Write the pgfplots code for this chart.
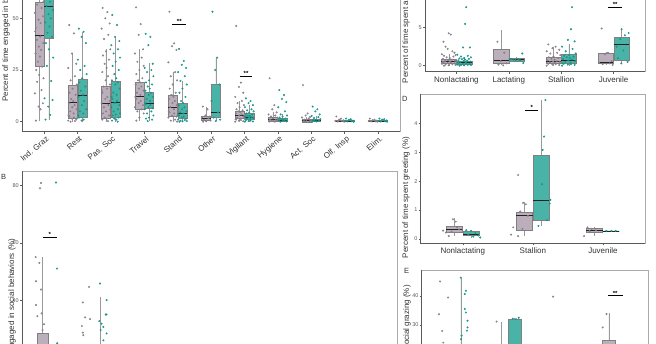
\documentclass[border=0pt]{standalone}
\usepackage{pgfplots}
\pgfplotsset{compat=1.18}
\usepgfplotslibrary{statistics}
\usepackage{fontspec}
\setmainfont{Liberation Sans}
\definecolor{pbox}{HTML}{A99BAA}
\definecolor{tbox}{HTML}{2AA698}
\definecolor{ppt}{HTML}{8A7E8C}
\definecolor{tpt}{HTML}{17978A}
\definecolor{frm}{HTML}{ABABAB}
\definecolor{axl}{HTML}{5A5A5A}
\definecolor{txt}{HTML}{333333}
\definecolor{med}{HTML}{222222}
\newcommand{\BX}[7]{\addplot[#1, boxplot prepared={draw position=#2, lower whisker=#3, lower quartile=#4, median=#5, upper quartile=#6, upper whisker=#7}] coordinates {};}
\newcommand{\SIG}[5]{\draw[black, line width=0.8pt] (axis cs:#1,#3) -- (axis cs:#2,#3); \node[font=\fontsize{6}{6}\selectfont\bfseries, inner sep=0pt, anchor=south] at (axis cs:#4,#3) {#5};}
\pgfplotsset{
 panel/.style={scale only axis, clip=false, axis line style={draw=frm, line width=0.6pt},
   tick pos=left, tick align=outside, major tick length=2pt,
   tick style={draw=axl, line width=0.4pt},
   /pgf/number format/assume math mode=true,
   yticklabel style={font=\fontsize{5.5}{6}\selectfont, text=axl, inner sep=1pt},
   xticklabel style={font=\fontsize{8}{9}\selectfont, text=txt, inner sep=1pt, yshift=-1.5pt},
   after end axis/.code={\draw[axl, line width=0.6pt] (rel axis cs:0,1) -- (rel axis cs:0,0) -- (rel axis cs:1,0);},
 },
 pb/.style={boxplot/draw direction=y, draw=gray, fill=pbox, fill opacity=0.8, line width=0.35pt, boxplot/whisker extend=0, boxplot/every median/.style={draw=med, line width=0.7pt}, boxplot/every whisker/.style={draw=gray!80}},
 tb/.style={boxplot/draw direction=y, draw=gray, fill=tbox, fill opacity=0.85, line width=0.35pt, boxplot/whisker extend=0, boxplot/every median/.style={draw=med, line width=0.7pt}, boxplot/every whisker/.style={draw=gray!80}},
 pp/.style={only marks, color=ppt, mark=*, mark size=0.8pt, mark options={draw=none, fill=ppt, fill opacity=0.8}},
 tp/.style={only marks, color=tpt, mark=*, mark size=0.8pt, mark options={draw=none, fill=tpt, fill opacity=0.85}},
}
\begin{document}
\begin{tikzpicture}
\useasboundingbox (0pt,0pt) rectangle (656pt,-344pt);
\clip (0pt,0pt) rectangle (656pt,-344pt);

% ---------------- Panel A ----------------
\begin{axis}[panel, at={(22pt,-131.7pt)}, anchor=south west, width=378pt, height=220.7pt,
  xmin=0.34, xmax=11.66, ymin=-4.84, ymax=101.9,
  xtick={1,...,11}, xticklabels={Ind. Graz, Rest, Pas. Soc, Travel, Stand, Other, Vigilant, Hygiene, Act. Soc, Olf. Insp, Elim.},
  xticklabel style={rotate=40, anchor=north east, xshift=2pt},
  ytick={0,25,50,75,100}, boxplot/box extend=0.27]
\BX{pb}{0.855}{0.5}{27}{41.9}{57.7}{90}
\BX{tb}{1.145}{1}{40.3}{55.6}{70}{95}
\BX{pb}{1.855}{0}{1.6}{9.2}{17.7}{33}
\BX{tb}{2.145}{0}{2.4}{12.6}{20.6}{43.5}
\BX{pb}{2.855}{0}{1.6}{8.9}{17.3}{35}
\BX{tb}{3.145}{0}{2.1}{9.5}{19.7}{41}
\BX{pb}{3.855}{0.5}{6.1}{12.1}{19.3}{35}
\BX{tb}{4.145}{0.3}{6.5}{8.9}{14.5}{28.2}
\BX{pb}{4.855}{0}{2.8}{7}{12.9}{24.2}
\BX{tb}{5.145}{0}{1.6}{4.1}{8.9}{19.7}
\BX{pb}{5.855}{0}{0.5}{1.6}{2.8}{7.3}
\BX{tb}{6.145}{0.3}{2.1}{4.5}{18.2}{31}
\BX{pb}{6.855}{0}{1.6}{3.2}{5.3}{10}
\BX{tb}{7.145}{0}{1.2}{2.1}{4.1}{8}
\BX{pb}{7.855}{0}{0.3}{1}{2}{4.5}
\BX{tb}{8.145}{0}{0.2}{0.7}{1.6}{3.5}
\BX{pb}{8.855}{0}{0}{0.5}{1}{2.3}
\BX{tb}{9.145}{0}{0.1}{0.5}{1.2}{2.8}
\BX{pb}{9.855}{0}{0.1}{0.3}{0.7}{1.5}
\BX{tb}{10.145}{0}{0.1}{0.3}{0.6}{1.2}
\BX{pb}{10.855}{0}{0.1}{0.2}{0.5}{1}
\BX{tb}{11.145}{0}{0.1}{0.3}{0.7}{1.5}
\addplot[pp] coordinates {
(0.755,0.5)(0.895,6)(0.835,7.3)(0.965,8.9)(0.725,13.7)(0.925,15.3)(0.795,19.3)(0.985,21)(0.855,22.6)(0.765,25)(0.945,26.6)(0.815,29)(0.875,31.5)(0.745,33)(0.915,34.7)(0.845,36.3)(0.975,38)(0.785,39.6)(0.885,41.2)(0.735,43.6)(0.755,45.3)(0.895,47.7)(0.835,49.3)(0.965,51)(0.725,52.6)(0.925,55)(0.795,56.6)(0.985,58.2)
(1.755,46.8)(1.895,42.7)(1.835,33)(1.965,28)(1.725,26)(1.925,22)(1.795,20)(1.985,18)(1.855,16)(1.765,14)(1.945,13)(1.815,11)(1.875,10)(1.745,9)(1.915,8)(1.845,7)(1.975,6)(1.785,5)(1.885,4)(1.735,3)(1.755,2.5)(1.895,2)(1.835,1.5)(1.965,1)(1.725,0.5)(1.925,0.3)(1.795,0)
(2.755,55)(2.895,53)(2.835,50)(2.965,47.5)(2.725,45)(2.925,42)(2.795,40)(2.985,35)(2.855,34)(2.765,32)(2.945,30)(2.815,28)(2.875,26)(2.745,24)(2.915,22)(2.845,20)(2.975,18)(2.785,17)(2.885,16)(2.735,15)(2.755,14)(2.895,12)(2.835,11)(2.965,10)(2.725,9)(2.925,8)(2.795,7)(2.985,6)(2.855,5)(2.765,4)(2.945,3)(2.815,2)(2.875,1.5)(2.745,1)(2.915,0.3)
(3.755,55.3)(3.895,47.2)(3.835,42)(3.965,35)(3.725,33)(3.925,31)(3.795,29)(3.985,27)(3.855,25)(3.765,23)(3.945,21)(3.815,20)(3.875,19)(3.745,18)(3.915,17)(3.845,16)(3.975,15)(3.785,14)(3.885,13)(3.735,12)(3.755,11)(3.895,10)(3.835,9)(3.965,8)(3.725,7)(3.925,6)(3.795,5)(3.985,4)(3.855,2)(3.765,0.5)
(4.755,53.2)(4.895,37.9)(4.835,36.5)(4.965,34.7)(4.725,28.7)(4.925,24)(4.795,22)(4.985,20)(4.855,18)(4.765,16)(4.945,14)(4.815,13)(4.875,12)(4.745,11)(4.915,10)(4.845,9)(4.975,8)(4.785,7)(4.885,6)(4.735,5)(4.755,4.5)(4.895,4)(4.835,3)(4.965,2.5)(4.725,2)(4.925,1)(4.795,0.5)(4.985,0)
(5.755,7.3)(5.895,6)(5.835,3)(5.965,2.5)(5.725,2)(5.925,1.6)(5.795,1)(5.985,0.5)(5.855,0.2)(5.765,0)
(6.755,46.3)(6.895,18.9)(6.835,16.8)(6.965,14)(6.725,12)(6.925,10)(6.795,9)(6.985,8)(6.855,7)(6.765,6)(6.945,5.5)(6.815,5)(6.875,4.5)(6.745,4)(6.915,3.5)(6.845,3)(6.975,2.5)(6.785,2)(6.885,1.5)(6.735,1.2)(6.755,1)(6.895,0.8)(6.835,0.5)(6.965,0.2)(6.725,0)
(7.755,21)(7.895,8)(7.835,6)(7.965,4.5)(7.725,3.5)(7.925,3)(7.795,2.5)(7.985,2)(7.855,1.5)(7.765,1)(7.945,0.8)(7.815,0.5)(7.875,0.3)(7.745,0.1)(7.915,0)
(8.755,17.7)(8.895,4)(8.835,3)(8.965,2.3)(8.725,2)(8.925,1.5)(8.795,1)(8.985,0.5)(8.855,0.3)(8.765,0.2)(8.945,0.1)(8.815,0)
(9.755,2.5)(9.895,1.5)(9.835,1)(9.965,0.7)(9.725,0.4)(9.925,0.3)(9.795,0.1)(9.985,0)
(10.755,1.5)(10.895,1)(10.835,0.7)(10.965,0.5)(10.725,0.3)(10.925,0.2)(10.795,0.1)(10.985,0)
};
\addplot[tp] coordinates {
(1.045,1)(1.185,3.3)(1.125,7.3)(1.255,10.5)(1.015,11.3)(1.215,19.7)(1.085,27)(1.275,31)(1.145,35)(1.055,38)(1.235,41)(1.105,43)(1.165,46)(1.035,48)(1.205,50)(1.135,52)(1.265,54)(1.075,56)(1.175,58)
(2.045,45)(2.185,43.5)(2.125,41)(2.255,38)(2.015,30)(2.215,27)(2.085,25)(2.275,23)(2.145,21)(2.055,19)(2.235,17)(2.105,15)(2.165,13)(2.035,12)(2.205,10)(2.135,8)(2.265,6)(2.075,5)(2.175,4)(2.025,3)(2.045,2)(2.185,1)(2.125,0.5)
(3.045,51.6)(3.185,46.8)(3.125,41)(3.255,39)(3.015,37)(3.215,35)(3.085,33)(3.275,31)(3.145,29)(3.055,27)(3.235,25)(3.105,23)(3.165,21)(3.035,20)(3.205,19)(3.135,18)(3.265,16)(3.075,14)(3.175,13)(3.025,12)(3.045,11)(3.185,10)(3.125,9)(3.255,8)(3.015,7)(3.215,6)(3.085,5)(3.275,4)(3.145,3.5)(3.055,3)(3.235,2)(3.105,1.5)(3.165,1)(3.035,0.5)(3.205,0)
(4.045,42.5)(4.185,41)(4.125,37)(4.255,28)(4.015,26)(4.215,25)(4.085,24)(4.275,22)(4.145,20)(4.055,19)(4.235,18)(4.105,17)(4.165,16)(4.035,15)(4.205,14)(4.135,13)(4.265,12)(4.075,11)(4.175,10)(4.025,9)(4.045,8.5)(4.185,8)(4.125,7)(4.255,6.5)(4.015,6)(4.215,5)(4.085,4)(4.275,3)(4.145,2)(4.055,1.5)(4.235,1)(4.105,0.3)
(5.045,35.2)(5.185,29.4)(5.125,27.5)(5.255,26)(5.015,24)(5.215,22)(5.085,19.7)(5.275,18)(5.145,16)(5.055,14)(5.235,12)(5.105,10)(5.165,9)(5.035,8)(5.205,7)(5.135,6)(5.265,5)(5.075,4.5)(5.175,4)(5.025,3.5)(5.045,3)(5.185,2.5)(5.125,2)(5.255,1.5)(5.015,1)(5.215,0.8)(5.085,0.5)(5.275,0.3)(5.145,0.2)(5.055,0)
(6.045,53.2)(6.185,31)(6.125,25)(6.255,18)(6.015,10)(6.215,4.5)(6.085,2)(6.275,1)(6.145,0.3)
(7.045,11.3)(7.185,10)(7.125,9)(7.255,8)(7.015,7)(7.215,6)(7.085,5.5)(7.275,5)(7.145,4.5)(7.055,4)(7.235,3.5)(7.105,3)(7.165,2.8)(7.035,2.5)(7.205,2.2)(7.135,2)(7.265,1.8)(7.075,1.5)(7.175,1.2)(7.025,1)(7.045,0.8)(7.185,0.5)(7.125,0.3)(7.255,0.1)(7.015,0)
(8.045,15.3)(8.185,12.9)(8.125,11)(8.255,9.5)(8.015,7)(8.215,5)(8.085,3.5)(8.275,3)(8.145,2.5)(8.055,2)(8.235,1.5)(8.105,1.2)(8.165,1)(8.035,0.7)(8.205,0.5)(8.135,0.3)(8.265,0.1)(8.075,0)
(9.045,7.3)(9.185,6)(9.125,5)(9.255,3.5)(9.015,2.8)(9.215,2.2)(9.085,1.8)(9.275,1.2)(9.145,1)(9.055,0.7)(9.235,0.5)(9.105,0.3)(9.165,0.1)(9.035,0)
(10.045,1.5)(10.185,1.2)(10.125,0.8)(10.255,0.5)(10.015,0.3)(10.215,0.2)(10.085,0.1)(10.275,0)
(11.045,1.5)(11.185,1.2)(11.125,1)(11.255,0.6)(11.015,0.4)(11.215,0.2)(11.085,0.1)(11.275,0)
};
\SIG{4.84}{5.26}{47.2}{5.05}{**}
\SIG{6.86}{7.24}{22.1}{7.05}{**}
\end{axis}

% ---------------- Panel C ----------------
\begin{axis}[panel, at={(425pt,-71.7pt)}, anchor=south west, width=220pt, height=131.7pt,
  xmin=0.4, xmax=4.6, ymin=-0.79, ymax=16.54,
  xtick={1,2,3,4}, xticklabels={Nonlactating, Lactating, Stallion, Juvenile},
  ytick={0,5,10,15}, boxplot/box extend=0.29]
\BX{pb}{0.853}{0}{0.3}{0.53}{0.84}{1.6}
\BX{tb}{1.147}{0}{0.18}{0.4}{0.62}{1.2}
\BX{pb}{1.853}{0.1}{0.3}{0.75}{2.2}{4.7}
\BX{tb}{2.147}{0.5}{0.66}{0.8}{0.97}{1.1}
\BX{pb}{2.853}{0}{0.3}{0.62}{1.18}{2.5}
\BX{tb}{3.147}{0}{0.3}{0.71}{1.5}{2.8}
\BX{pb}{3.853}{0.1}{0.3}{0.5}{1.6}{1.84}
\BX{tb}{4.147}{0.2}{0.75}{2.75}{3.7}{4.7}
\addplot[pp] coordinates {
(0.853,4.26)(0.893,4.1)(0.753,3.16)(0.793,2.5)(0.833,2.2)(0.923,1.9)(0.963,1.7)(0.723,1.5)(0.983,1.4)(0.763,1.3)(0.943,1.2)(0.813,1.1)(0.873,1)(0.743,0.9)(0.913,0.8)(0.843,0.7)(0.973,0.65)(0.783,0.6)(0.883,0.55)(0.733,0.5)(0.753,0.45)(0.893,0.4)(0.833,0.35)(0.963,0.3)(0.723,0.25)(0.923,0.2)(0.793,0.15)(0.983,0.1)(0.853,0.05)(0.763,0)
(1.783,3.16)(1.913,1.7)(1.843,0.6)(1.953,0.3)(1.803,0.15)(1.893,0.05)
(2.753,2.8)(2.893,2.5)(2.833,2.3)(2.963,2.1)(2.723,1.9)(2.923,1.7)(2.793,1.6)(2.983,1.4)(2.853,1.2)(2.763,1.1)(2.943,1)(2.813,0.9)(2.873,0.8)(2.743,0.7)(2.913,0.6)(2.843,0.55)(2.973,0.5)(2.783,0.45)(2.883,0.4)(2.733,0.3)(2.753,0.25)(2.893,0.2)(2.833,0.15)(2.963,0.1)(2.723,0)
(3.773,4.9)(3.893,1.7)(3.833,1.5)(3.963,0.6)(3.723,0.4)(3.923,0.3)(3.793,0.2)(3.983,0.1)
};
\addplot[tp] coordinates {
(1.187,7.7)(1.167,5.5)(1.127,2.4)(1.257,2.4)(1.017,1.45)(1.217,1.3)(1.087,1.2)(1.277,1.1)(1.147,1)(1.057,0.95)(1.237,0.9)(1.107,0.85)(1.167,0.8)(1.037,0.7)(1.207,0.65)(1.137,0.6)(1.267,0.55)(1.077,0.5)(1.177,0.45)(1.027,0.4)(1.047,0.35)(1.187,0.3)(1.127,0.25)(1.257,0.2)(1.017,0.15)(1.217,0.12)(1.087,0.1)(1.277,0.08)(1.147,0.05)(1.057,0)
(2.047,0.85)(2.187,0.8)(2.127,0.75)(2.257,1.6)(2.017,0.9)(2.217,0.7)(2.087,0.8)(2.277,0.35)
(3.207,7.7)(3.187,4.8)(3.127,3.4)(3.257,3.2)(3.017,2.5)(3.217,2.2)(3.087,1.9)(3.277,1.6)(3.147,1.4)(3.057,1.3)(3.237,1.2)(3.107,1.1)(3.167,1)(3.037,0.9)(3.207,0.8)(3.137,0.7)(3.267,0.6)(3.077,0.5)(3.177,0.4)(3.027,0.3)(3.047,0.25)(3.187,0.2)(3.127,0.15)(3.257,0.1)(3.017,0)
(4.153,4.8)(4.287,4.3)(4.217,4.0)(4.127,3.5)(4.057,2.5)(4.187,2.0)(4.087,1.0)(4.267,0.5)(4.147,0.3)
};
\SIG{3.898}{4.17}{7.7}{4.03}{**}
\end{axis}

% ---------------- Panel D ----------------
\begin{axis}[panel, at={(420.7pt,-243.3pt)}, anchor=south west, width=224.3pt, height=149pt,
  xmin=0.4, xmax=3.6, ymin=-0.15, ymax=5.0,
  xtick={1,2,3}, xticklabels={Nonlactating, Stallion, Juvenile},
  ytick={0,1,2,3,4}, boxplot/box extend=0.23]
\BX{pb}{0.88}{0.1}{0.25}{0.33}{0.43}{0.71}
\BX{tb}{1.12}{0.05}{0.12}{0.16}{0.28}{0.3}
\BX{pb}{1.88}{0.1}{0.29}{0.8}{0.94}{1.29}
\BX{tb}{2.12}{0.45}{0.66}{1.32}{2.88}{4.8}
\BX{pb}{2.88}{0.1}{0.25}{0.3}{0.37}{0.42}
\BX{tb}{3.12}{0.28}{0.28}{0.28}{0.28}{0.28}
\addplot[pp] coordinates {
(0.86,0.68)(0.90,0.6)(0.72,0.29)(0.76,0.22)(0.80,0.1)(0.95,0.33)(0.84,0.25)(0.92,0.4)
(1.79,2.21)(1.86,1.25)(1.90,1.2)(1.82,0.95)(1.93,0.8)(1.72,0.4)(1.85,0.35)(1.69,0.15)(1.79,0.1)
(2.78,0.4)(2.84,0.35)(2.90,0.3)(2.81,0.27)(2.73,0.1)
};
\addplot[tp] coordinates {
(1.05,0.3)(1.12,0.28)(1.18,0.2)(1.08,0.15)(1.22,0.12)(1.15,0.08)(1.25,0.05)
(2.18,4.8)(2.16,3.54)(2.14,3.08)(2.13,1.89)(2.25,1.35)(2.24,1.22)(2.20,0.65)(2.08,0.45)
(3.05,0.28)(3.12,0.28)(3.18,0.28)
};
\SIG{1.89}{2.08}{4.46}{1.985}{*}
\end{axis}

% ---------------- Panel E ----------------
\begin{axis}[panel, at={(421.7pt,-419.7pt)}, anchor=south west, width=226.3pt, height=149.7pt,
  xmin=0.4, xmax=4.6, ymin=-2.3, ymax=48.8,
  xtick={1,2,3,4}, xticklabels={Nonlactating, Lactating, Stallion, Juvenile},
  ytick={0,10,20,30,40}, boxplot/box extend=0.24]
\BX{pb}{0.875}{0}{3}{8}{15}{20}
\BX{tb}{1.125}{0}{8}{15}{22.3}{46.2}
\BX{pb}{1.875}{0}{4}{10}{18}{31.2}
\BX{tb}{2.125}{5}{12}{20}{32}{32.5}
\BX{pb}{2.875}{0}{2}{5}{10}{20}
\BX{tb}{3.125}{0}{1}{3}{6}{10}
\BX{pb}{3.875}{0}{5}{12}{25}{34}
\BX{tb}{4.125}{0}{1}{3}{6}{9}
\addplot[pp] coordinates {
(0.74,44.9)(0.89,39.4)(0.72,33.7)(0.78,28)(0.80,24)(0.85,18)(0.93,12)(0.76,5)
(1.79,31.2)(1.88,20)(1.82,12)
(2.84,39.7)(2.90,10)
(3.83,33.8)(3.76,29.2)(3.90,18)(3.80,10)
};
\addplot[tp] coordinates {
(1.125,46.2)(1.22,41.7)(1.20,40.6)(1.20,35.5)(1.22,34.3)(1.25,31.5)(1.25,29.2)(1.24,28.1)(1.14,26.4)(1.13,25.2)(1.18,20)(1.08,15)(1.16,10)
(2.09,32.2)(2.15,32)(2.20,32.5)(2.12,22)(2.18,15)
(3.12,8)
(4.12,5)(4.18,8)
};
\SIG{3.856}{4.13}{40}{3.99}{**}
\end{axis}

% ---------------- Panel B ----------------
\begin{axis}[panel, at={(22pt,-426.6pt)}, anchor=south west, width=375pt, height=255.6pt,
  xmin=0.4, xmax=8.6, ymin=-4.05, ymax=85,
  xtick=\empty, ytick={0,20,40,60,80}, boxplot/box extend=0.25]
\BX{pb}{0.85}{0}{5}{14}{28.5}{55}
\BX{tb}{1.15}{0}{2}{8}{14}{25}
\BX{pb}{1.8}{0}{4}{10}{16}{24}
\BX{tb}{2.107}{0}{8}{15}{23}{41.1}
\addplot[pp] coordinates {
(0.816,80.8)(0.794,79)(0.70,55)(0.78,53)(0.706,46.6)(0.816,43.7)(0.706,38.3)(0.83,35.4)(0.735,34.4)(0.88,31.6)(0.85,29.6)(0.76,22)(0.90,18)(0.80,12)
(1.73,39.2)(1.866,44.6)(1.78,34)(1.89,33.4)(1.71,31)(1.73,28.7)(1.74,27.8)
};
\addplot[tp] coordinates {
(1.144,81)(1.166,51)(1.17,25)(1.10,20)(1.20,12)
(2.107,45.8)(2.25,40)(2.25,35)(2.23,35)(2.09,32.7)(2.18,30.7)(2.25,28.4)(2.14,31.8)(2.12,29.6)(2.18,26)
};
\SIG{0.86}{1.166}{62}{1.01}{*}
\end{axis}

% ---------------- labels ----------------
\begin{scope}[every node/.style={font=\fontsize{8}{9.6}\selectfont, text=txt, inner sep=0pt}]
\node[rotate=90, anchor=south west] at (10pt,-101.7pt) {Percent of time engaged in behaviors (\%)};
\node[rotate=90, anchor=south east] at (16pt,-238.3pt) {Percent of time engaged in social behaviors (\%)};
\node[rotate=90, anchor=south west] at (410pt,-83.3pt) {Percent of time spent actively socializing (\%)};
\node[rotate=90, anchor=south east] at (410pt,-136.7pt) {Percent of time spent greeting (\%)};
\node[rotate=90, anchor=south east] at (411pt,-285pt) {Percent of time spent in social grazing (\%)};
\node[anchor=west, font=\fontsize{7.5}{8}\selectfont] at (1pt,-177pt) {B};
\node[anchor=west, font=\fontsize{7.5}{8}\selectfont] at (402pt,-99pt) {D};
\node[anchor=west, font=\fontsize{7.5}{8}\selectfont] at (404pt,-271pt) {E};
\end{scope}
\end{tikzpicture}
\end{document}
